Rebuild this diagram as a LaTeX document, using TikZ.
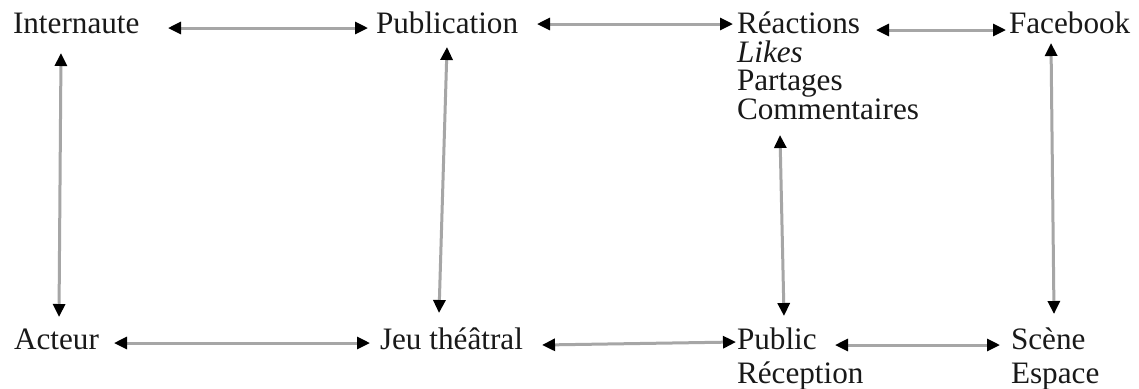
\documentclass[tikz,border=0pt]{standalone}
\usepackage{fontspec}
\setmainfont{Liberation Serif}
\usetikzlibrary{arrows.meta,calc}
\begin{document}
\begin{tikzpicture}[x=0.5pt,y=-0.5pt,
  lbl/.style={anchor=base west,inner sep=0pt,outer sep=0pt,font=\fontsize{15.6}{18}\selectfont,text=black!90},
  arr/.style={draw=black!35,line width=1.5pt,>={Triangle[length=6.5pt,width=6pt,color=black]},<->}]
\useasboundingbox (0,0) rectangle (1139,388);
\fill[white] (0,0) rectangle (1139,388);
% nodes
\node[lbl] (int) at (13,33) {Internaute};
\node[lbl] (pub) at (376,33) {Publication};
\node[lbl] (reac) at (737,33) {Réactions};
\node[lbl] (likes) at (737,62) {\itshape Likes};
\node[lbl] (part) at (737,90) {Partages};
\node[lbl] (comm) at (737,119) {Commentaires};
\node[lbl] (fb) at (1009,33) {Facebook};
\node[lbl] (act) at (14,349) {Acteur};
\node[lbl] (jeu) at (380,349) {Jeu théâtral};
\node[lbl] (public) at (737,349) {Public};
\node[lbl] (recep) at (737,383) {Réception};
\node[lbl] (scene) at (1011,349) {Scène};
\node[lbl] (espace) at (1011,383) {Espace};
% horizontal connectors
\draw[arr] ($(int.base west)+(155,-5)$) -- ($(pub.base west)+(-8,-5)$);
\draw[arr] ($(pub.base west)+(161,-9)$) -- ($(reac.base west)+(-4,-9)$);
\draw[arr] ($(reac.base west)+(139,-3)$) -- ($(fb.base west)+(-3,-3)$);
\draw[arr] ($(act.base west)+(100,-6)$) -- ($(jeu.base west)+(-10,-6)$);
\draw[arr] ($(jeu.base west)+(162,-4)$) -- ($(public.base west)+(-1,-7)$);
\draw[arr] ($(public.base west)+(98,-4)$) -- ($(scene.base west)+(-11,-4)$);
% vertical connectors
\draw[arr] ($(int.base west)+(48,20)$) -- ($(act.base west)+(45,-32)$);
\draw[arr] ($(pub.base west)+(71,14)$) -- ($(jeu.base west)+(59,-36)$);
\draw[arr] ($(comm.base west)+(43,16)$) -- ($(public.base west)+(47,-33)$);
\draw[arr] ($(fb.base west)+(42,10)$) -- ($(scene.base west)+(43,-35)$);
\end{tikzpicture}
\end{document}
